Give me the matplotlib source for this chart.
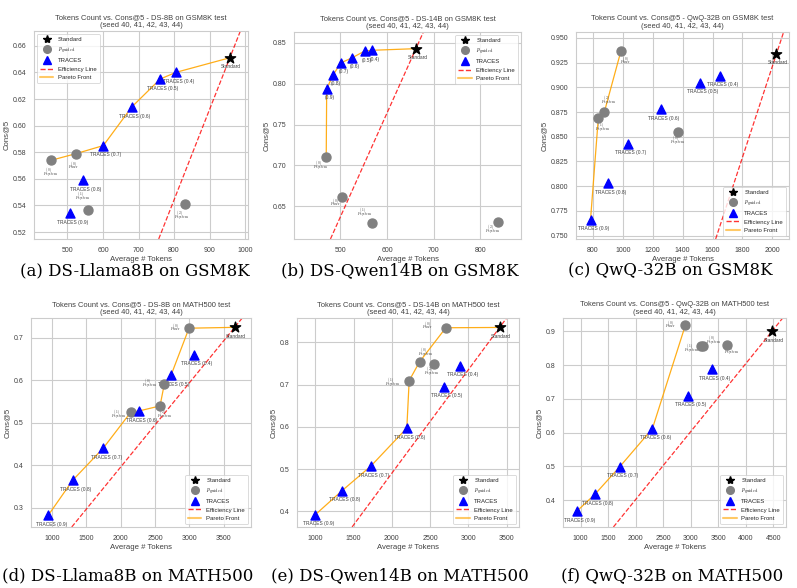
import numpy as np
import matplotlib
matplotlib.use("Agg")
import matplotlib.pyplot as plt
from matplotlib.lines import Line2D
import seaborn as sns

# Datos
captions = ["(a) DS-Llama8B on GSM8K", "(b) DS-Qwen14B on GSM8K", "(c) QwQ-32B on GSM8K",
            "(d) DS-Llama8B on MATH500", "(e) DS-Qwen14B on MATH500", "(f) QwQ-32B on MATH500"]
titles = ["DS-8B on GSM8K", "DS-14B on GSM8K", "QwQ-32B on GSM8K",
          "DS-8B on MATH500", "DS-14B on MATH500", "QwQ-32B on MATH500"]

traces_levels = [0.4, 0.5, 0.6, 0.7, 0.8, 0.9]

standard_tokens = [957, 662, 2027, 3660, 3408, 4479]
standard_cons = [0.651, 0.843, 0.9338, 0.725, 0.8356, 0.901]

traces_tokens = [
    [805, 761, 681, 601, 543, 506],
    [567, 552, 526, 501, 485, 471],
    [1647, 1516, 1255, 1033, 900, 784],
    [3063, 2733, 2262, 1748, 1301, 947],
    [2894, 2675, 2195, 1724, 1345, 1000],
    [3388, 2952, 2303, 1709, 1261, 933],
]
traces_cons = [
    [0.640, 0.635, 0.614, 0.585, 0.559, 0.534],
    [0.841, 0.840, 0.832, 0.8255, 0.811, 0.794],
    [0.9116, 0.9045, 0.878, 0.843, 0.803, 0.766],
    [0.660, 0.612, 0.528, 0.441, 0.365, 0.283],
    [0.7446, 0.6955, 0.5972, 0.5069, 0.4483, 0.3921],
    [0.788, 0.709, 0.612, 0.499, 0.418, 0.368],
]

guided_names = [r"$p^{(0)}_{\mathrm{system}}$", r"$p^{(1)}_{\mathrm{system}}$",
                r"$p^{(2)}_{\mathrm{system}}$", r"$p^{(0)}_{\mathrm{user}}$"]
guided_tokens = [
    [455, 559, 830, 525],
    [470, 567, 838, 504],
    [1367, 836, 876, 987],
    [2636, 2146, 2573, 2995],
    [2361, 2226, 2553, 2705],
    [3215, 3182, 3661, 2903],
]
guided_cons = [
    [0.574, 0.5365, 0.541, 0.579],
    [0.7106, 0.6293, 0.6313, 0.662],
    [0.855, 0.8687, 0.8748, 0.9365],
    [0.592, 0.525, 0.540, 0.723],
    [0.754, 0.7097, 0.7496, 0.8349],
    [0.858, 0.8554, 0.8604, 0.9188],
]

# Estilo / disposicion
label_offsets = [
    [(-1, -9), (-4, 9), (-2, -9), (-2, -9)],
    [(-4, -7), (-5, 7), (-4, -6), (-5, -5)],
    [(0, -7), (3, -7), (3, 8), (3, -7)],
    [(-11, 0), (-9, -2), (3, -7), (-10, 0)],
    [(4, 6), (-12, -2), (-2, -6), (-13, 1)],
    [(8, 3), (-7, -2), (3, -5), (-11, 0)],
]
xlims = [(406, 1008), (401, 887), (687, 2111), (694, 3898), (760, 3661), (679, 4730)]
ylims = [(0.5148, 0.6711), (0.610, 0.8634), (0.7466, 0.956),
         (0.255, 0.747), (0.3628, 0.858), (0.3208, 0.9396)]
legend_locs = ["upper left", "upper right", "lower right", "lower right", "lower right", "lower right"]
# (izq, der, arriba, abajo) en pixeles
boxes = [(34, 248, 31, 239), (294, 521, 32, 239), (576, 789, 32, 239),
         (31, 251, 318, 527), (297, 519, 318, 527), (563, 786, 318, 527)]
caption_pos = [(135, 271), (400, 271), (670, 271), (128, 576), (400, 576), (672, 576)]

W, H = 797, 588


def pareto_front(tok, acc):
    order = np.argsort(tok)
    fx, fy = [], []
    best = -np.inf
    for i in order:
        if acc[i] > best:
            best = acc[i]
            fx.append(tok[i])
            fy.append(acc[i])
    return fx, fy


sns.set_style("whitegrid")
plt.rcParams["font.family"] = ["Liberation Sans", "DejaVu Sans"]
plt.rcParams["mathtext.fontset"] = "cm"

fig = plt.figure(figsize=(W / 100, H / 100), dpi=100)

for k in range(6):
    l, r, t, b = boxes[k]
    ax = fig.add_axes([l / W, 1 - b / H, (r - l) / W, (b - t) / H])

    st_x, st_y = standard_tokens[k], standard_cons[k]
    tr_x, tr_y = traces_tokens[k], traces_cons[k]
    gd_x, gd_y = guided_tokens[k], guided_cons[k]

    all_x = [st_x] + list(tr_x) + list(gd_x)
    all_y = [st_y] + list(tr_y) + list(gd_y)
    fx, fy = pareto_front(np.array(all_x), np.array(all_y))

    ax.axline((0, 0), (st_x, st_y), color="red", ls="--", lw=0.9, alpha=0.8, zorder=2)
    ax.plot(fx, fy, color="orange", lw=0.9, alpha=0.9, zorder=2)

    ax.scatter([st_x], [st_y], marker="*", s=60, color="black", zorder=4)
    ax.scatter(gd_x, gd_y, marker="o", s=42, color="gray", zorder=4)
    ax.scatter(tr_x, tr_y, marker="^", s=42, color="blue", zorder=4)

    ax.annotate("Standard", (st_x, st_y), xytext=(1, -6.5), textcoords="offset points",
                ha="center", va="center", fontsize=3.5, color="0.25")
    for lev, x, y in zip(traces_levels, tr_x, tr_y):
        txt = f"({lev})" if k == 1 else f"TRACES ({lev})"
        ax.annotate(txt, (x, y), xytext=(2, -6.5), textcoords="offset points",
                    ha="center", va="center", fontsize=3.5, color="0.25")
    for name, x, y, off in zip(guided_names, gd_x, gd_y, label_offsets[k]):
        ax.annotate(name, (x, y), xytext=off, textcoords="offset points",
                    ha="center", va="center", fontsize=3.6, color="0.25")

    ax.set_xlim(*xlims[k])
    ax.set_ylim(*ylims[k])
    ax.set_title("Tokens Count vs. Cons@5 - " + titles[k] + " test\n(seed 40, 41, 42, 43, 44)",
                 fontsize=5.4, color="0.25", pad=3, linespacing=1.1)
    ax.set_xlabel("Average # Tokens", fontsize=5.6, color="0.25", labelpad=1.5)
    ax.set_ylabel("Cons@5", fontsize=5.6, color="0.25", labelpad=2)
    ax.tick_params(labelsize=5, colors="0.25", pad=2)
    for sp in ax.spines.values():
        sp.set_linewidth(0.8)

    handles = [
        Line2D([], [], marker="*", ls="none", color="black", markersize=6),
        Line2D([], [], marker="o", ls="none", color="gray", markersize=5.5),
        Line2D([], [], marker="^", ls="none", color="blue", markersize=5.5),
        Line2D([], [], color="red", ls="--", lw=1, alpha=0.8),
        Line2D([], [], color="orange", lw=1.5, alpha=0.6),
    ]
    labels = ["Standard", r"$p_{\mathrm{guided}}$", "TRACES", "Efficiency Line", "Pareto Front"]
    leg = ax.legend(handles, labels, loc=legend_locs[k], fontsize=4.3, frameon=True,
                    borderpad=0.5, labelspacing=0.55, handlelength=2.2, handletextpad=0.8)
    leg.get_frame().set_linewidth(0.6)

    cx, cy = caption_pos[k]
    fig.text(cx / W, 1 - cy / H, captions[k], ha="center", va="center",
             fontsize=12, family="DejaVu Serif", color="black")

fig.savefig("out.png", dpi=100)
